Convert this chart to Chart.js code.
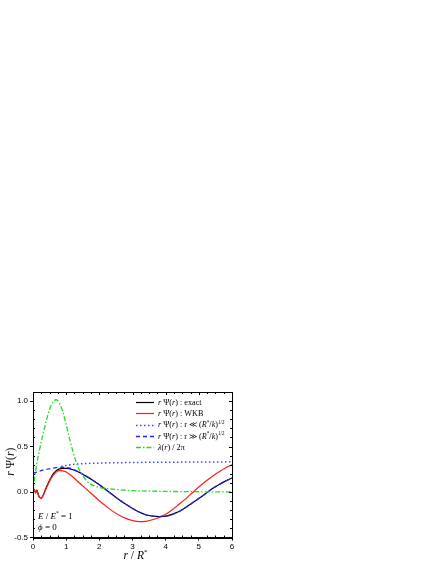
<!DOCTYPE html>
<html><head><meta charset="utf-8">
<script src="https://cdn.jsdelivr.net/npm/chart.js@4"></script>
<style>html,body{margin:0;padding:0;background:#fff;}canvas{display:block;}</style>
</head><body>
<canvas id="c" width="436" height="564"></canvas>
<script>
// ---- data ----
const rGrid = [0,0.04,0.08,0.12,0.16,0.2,0.24,0.3,0.4,0.5,0.6,0.7,0.8,0.9,1.0,1.2,1.4,1.6,1.8,2.0,2.2,2.4,2.6,2.8,3.0,3.2,3.4,3.6,3.8,4.0,4.2,4.4,4.6,4.8,5.0,5.2,5.4,5.6,5.8,6.0];
const vExact = [0,0.03,-0.01,0.02,-0.03,-0.06,-0.07,-0.04,0.05,0.13,0.195,0.235,0.255,0.26,0.26,0.245,0.215,0.175,0.13,0.08,0.025,-0.03,-0.085,-0.135,-0.18,-0.22,-0.25,-0.265,-0.27,-0.265,-0.245,-0.215,-0.17,-0.12,-0.07,-0.02,0.035,0.08,0.12,0.155];
const vWKB = [0,0.03,-0.01,0.02,-0.03,-0.06,-0.07,-0.045,0.04,0.12,0.18,0.22,0.235,0.232,0.22,0.165,0.10,0.035,-0.03,-0.095,-0.155,-0.21,-0.255,-0.29,-0.313,-0.325,-0.322,-0.305,-0.28,-0.245,-0.195,-0.135,-0.075,-0.01,0.055,0.115,0.17,0.22,0.265,0.30];
const rDashed = [0,0.2,0.4,0.6,0.8,1.0,1.2,1.4,1.6,1.8,2.0,2.2,2.4,2.6,2.8,3.0,3.2,3.4,3.6,3.8,4.0,4.2,4.4,4.6,4.8,5.0,5.2,5.4,5.6,5.8,6.0];
const vDashed = [0.205,0.23,0.25,0.263,0.272,0.27,0.252,0.218,0.175,0.13,0.08,0.025,-0.03,-0.085,-0.135,-0.18,-0.22,-0.25,-0.265,-0.27,-0.265,-0.245,-0.215,-0.17,-0.12,-0.07,-0.02,0.035,0.08,0.12,0.155];
const rDotted = [0.85,1.0,1.2,1.5,2.0,2.5,3.0,4.0,5.0,6.0];
const vDotted = [0.28,0.292,0.303,0.312,0.318,0.322,0.325,0.328,0.33,0.332];
const rLambda = [0,0.05,0.1,0.2,0.3,0.4,0.5,0.6,0.7,0.8,0.9,1.0,1.1,1.2,1.3,1.4,1.5,1.6,1.7,1.8,2.0,2.3,2.6,3.0,3.5,4.0,5.0,6.0];
const vLambda = [0,0.15,0.28,0.47,0.63,0.78,0.91,0.99,1.015,0.975,0.88,0.74,0.59,0.45,0.33,0.24,0.18,0.13,0.095,0.075,0.05,0.035,0.025,0.015,0.01,0.007,0.003,0.001];
const xTicks = [0,1,2,3,4,5,6];
const yTicks = [-0.5,0.0,0.5,1.0];

const pts = (xs, ys) => xs.map((x, i) => ({x: x, y: ys[i]}));
const SERIF = '"Liberation Serif", "DejaVu Serif", serif';
const SANS = '"Liberation Sans", Arial, sans-serif';

const C_BLACK = '#000000', C_RED = '#ff1a1a', C_BLUE = '#2222ff', C_BLUE_DOT = '#4040ff', C_GREEN = '#22dd22';

const series = [
  {label:'exact', data: pts(rGrid, vExact), borderColor: C_BLACK, borderWidth: 1.2, borderDash: [], order: 4},
  {label:'WKB', data: pts(rGrid, vWKB), borderColor: C_RED, borderWidth: 1.2, borderDash: [], order: 3},
  {label:'dotted', data: pts(rDotted, vDotted), borderColor: C_BLUE_DOT, borderWidth: 1.5, borderDash: [1.5,2.5], order: 2},
  {label:'dashed', data: pts(rDashed, vDashed), borderColor: C_BLUE, borderWidth: 1.3, borderDash: [4,3], order: 1},
  {label:'lambda', data: pts(rLambda, vLambda), borderColor: C_GREEN, borderWidth: 1.3, borderDash: [5,2,1.5,2], order: 0}
];

function richWidth(ctx, parts, size) {
  let w = 0;
  for (const p of parts) {
    const s = p.sup ? size * 0.62 : size;
    ctx.font = (p.it ? 'italic ' : '') + s + 'px ' + SERIF;
    w += ctx.measureText(p.t).width;
  }
  return w;
}
function drawRich(ctx, x, y, parts, size, align) {
  let w = richWidth(ctx, parts, size);
  let cx = align === 'center' ? x - w / 2 : x;
  ctx.textBaseline = 'alphabetic';
  ctx.textAlign = 'left';
  ctx.fillStyle = '#000';
  for (const p of parts) {
    const s = p.sup ? size * 0.62 : size;
    ctx.font = (p.it ? 'italic ' : '') + s + 'px ' + SERIF;
    ctx.fillText(p.t, cx, p.sup ? y - size * 0.42 : y);
    cx += ctx.measureText(p.t).width;
  }
}

const decor = {
  id: 'decor',
  afterDraw(chart) {
    const ctx = chart.ctx;
    const xs = chart.scales.x, ys = chart.scales.y;
    const a = chart.chartArea;
    ctx.save();
    ctx.strokeStyle = '#000';
    ctx.lineWidth = 1;
    ctx.setLineDash([]);
    ctx.strokeRect(Math.round(a.left) + 0.5, Math.round(a.top) + 0.5, Math.round(a.right - a.left), Math.round(a.bottom - a.top));
    ctx.beginPath();
    for (let i = 0; i <= 24; i++) {
      const v = i * 0.25;
      const px = Math.round(xs.getPixelForValue(v)) + 0.5;
      const major = (i % 4 === 0);
      const L = major ? 3 : 2;
      ctx.moveTo(px, a.top); ctx.lineTo(px, a.top + L);
      if (!major) { ctx.moveTo(px, a.bottom); ctx.lineTo(px, a.bottom - L); }
    }
    for (let i = -5; i <= 11; i++) {
      const v = i * 0.1;
      const py = Math.round(ys.getPixelForValue(v)) + 0.5;
      const major = (i % 5 === 0);
      const L = major ? 3 : 2;
      ctx.moveTo(a.right, py); ctx.lineTo(a.right - L, py);
      if (!major) { ctx.moveTo(a.left, py); ctx.lineTo(a.left + L, py); }
    }
    ctx.stroke();

    // axis titles
    ctx.save();
    ctx.translate(14, (a.top + a.bottom) / 2 - 3);
    ctx.rotate(-Math.PI / 2);
    drawRich(ctx, 0, 0, [{t:'r', it:true}, {t:' Ψ('}, {t:'r', it:true}, {t:')'}], 11.5, 'center');
    ctx.restore();
    drawRich(ctx, (a.left + a.right) / 2 + 3, 559, [{t:'r', it:true}, {t:' / '}, {t:'R', it:true}, {t:'*', sup:true}], 11.5, 'center');

    // annotations
    drawRich(ctx, 38, 518.5, [{t:'E', it:true}, {t:' / '}, {t:'E', it:true}, {t:'*', sup:true}, {t:' = 1'}], 9, 'left');
    drawRich(ctx, 38, 530, [{t:'ϕ', it:true}, {t:' = 0'}], 9, 'left');

    // legend
    const legendRows = [
      [{t:'r', it:true}, {t:' Ψ('}, {t:'r', it:true}, {t:') : exact'}],
      [{t:'r', it:true}, {t:' Ψ('}, {t:'r', it:true}, {t:') : WKB'}],
      [{t:'r', it:true}, {t:' Ψ('}, {t:'r', it:true}, {t:') : r ≪ ('}, {t:'R', it:true}, {t:'*', sup:true}, {t:'/'}, {t:'k', it:true}, {t:')'}, {t:'1/2', sup:true}],
      [{t:'r', it:true}, {t:' Ψ('}, {t:'r', it:true}, {t:') : r ≫ ('}, {t:'R', it:true}, {t:'*', sup:true}, {t:'/'}, {t:'k', it:true}, {t:')'}, {t:'1/2', sup:true}],
      [{t:'λ', it:true}, {t:'('}, {t:'r', it:true}, {t:') / 2π'}]
    ];
    for (let i = 0; i < legendRows.length; i++) {
      const y = 402 + i * 11.3;
      const st = series[i];
      ctx.beginPath();
      ctx.strokeStyle = st.borderColor;
      ctx.lineWidth = st.borderWidth;
      ctx.setLineDash(st.borderDash);
      ctx.moveTo(136, Math.round(y) + 0.5); ctx.lineTo(154, Math.round(y) + 0.5);
      ctx.stroke();
      ctx.setLineDash([]);
      drawRich(ctx, 158, y + 2.8, legendRows[i], 8.2, 'left');
    }
    ctx.restore();
  }
};

new Chart(document.getElementById('c'), {
  type: 'line',
  data: {
    datasets: series.map(s => ({
      label: s.label, data: s.data, borderColor: s.borderColor, borderWidth: s.borderWidth,
      borderDash: s.borderDash, order: s.order, pointRadius: 0, fill: false,
      cubicInterpolationMode: 'monotone'
    }))
  },
  options: {
    responsive: false, animation: false, devicePixelRatio: 1,
    layout: {padding: {left: 0, top: 392, right: 204, bottom: 0}},
    plugins: {legend: {display: false}, tooltip: {enabled: false}},
    scales: {
      x: {
        type: 'linear', min: 0, max: 6,
        afterBuildTicks: s => { s.ticks = xTicks.map(v => ({value: v})); },
        afterFit: s => { s.height = 26.5; },
        ticks: {font: {family: SANS, size: 8}, color: '#000', padding: 1, maxRotation: 0, callback: v => String(v)},
        grid: {display: true, drawOnChartArea: false, drawTicks: true, tickLength: 3, color: '#000'},
        border: {display: true, color: '#000'}
      },
      y: {
        type: 'linear', min: -0.5, max: 1.1,
        afterBuildTicks: s => { s.ticks = yTicks.map(v => ({value: v})); },
        afterFit: s => { s.width = 33; },
        ticks: {font: {family: SANS, size: 8}, color: '#000', padding: 2, callback: v => Number(v).toFixed(1)},
        grid: {display: true, drawOnChartArea: false, drawTicks: true, tickLength: 3, color: '#000'},
        border: {display: true, color: '#000'}
      }
    }
  },
  plugins: [decor]
});
</script>
</body></html>
